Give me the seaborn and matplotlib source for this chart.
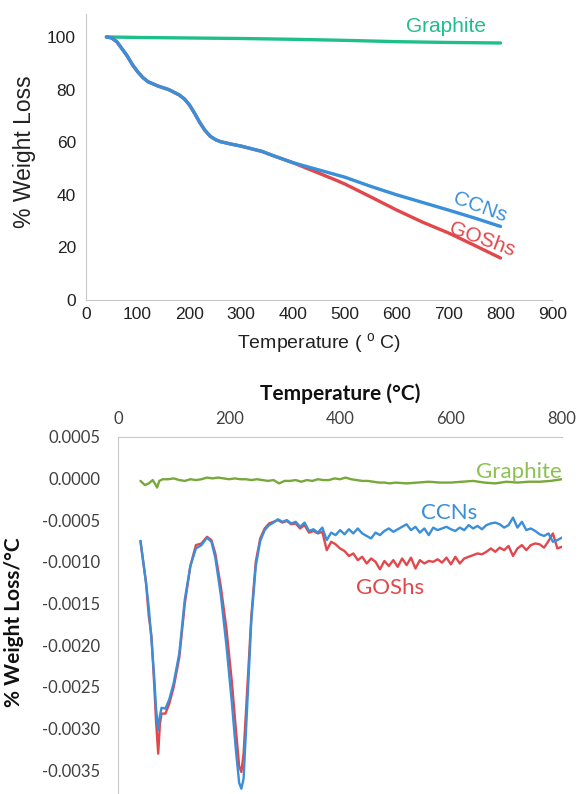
import numpy as np
import pandas as pd
import seaborn as sns
import matplotlib.pyplot as plt
from matplotlib.ticker import FormatStrFormatter

sns.set_style("white")

# ---------------- TGA (top panel) ----------------
tga_temp = [40, 50, 60, 70, 80, 90, 100, 110, 120, 140, 160, 180, 190, 200, 210, 220,
            230, 240, 250, 260, 280, 300, 320, 340, 360, 380, 400, 420, 440, 460, 480,
            500, 550, 600, 650, 700, 750, 800]
tga_ccns = [100, 99.6, 98.2, 95.5, 92.8, 89.5, 86.8, 84.6, 83.0, 81.3, 80.0, 78.0, 76.5,
            74.2, 71.0, 67.5, 64.5, 62.3, 61.0, 60.2, 59.3, 58.5, 57.5, 56.5, 55.0, 53.6,
            52.2, 51.1, 50.0, 48.9, 47.8, 46.7, 43.2, 40.0, 37.1, 34.2, 31.2, 28.0]
tga_goshs = [100, 99.6, 98.2, 95.5, 92.8, 89.5, 86.8, 84.6, 83.0, 81.3, 80.0, 78.0, 76.5,
             74.2, 71.0, 67.5, 64.5, 62.3, 61.0, 60.2, 59.3, 58.5, 57.5, 56.5, 55.0, 53.6,
             52.2, 50.6, 49.0, 47.4, 45.8, 44.1, 39.2, 34.2, 29.6, 25.5, 20.8, 16.0]
tga_graph_temp = [40, 100, 200, 300, 400, 500, 600, 700, 800]
tga_graphite = [100, 99.8, 99.6, 99.4, 99.1, 98.7, 98.2, 97.9, 97.7]

# ---------------- DTG (bottom panel), values in 1e-4 %/°C ----------------
dtg_temp = [40, 45, 50, 55, 60, 65, 68, 72, 75, 78, 85, 92, 100, 110, 120, 130, 140, 150,
            160, 168, 175, 185, 195, 205, 212, 218, 222, 226, 232, 240, 248, 256, 264, 272,
            280, 288, 296, 304, 312, 320, 328, 336, 344, 352, 360, 368, 376, 384, 392, 400,
            408, 416, 424, 432, 440, 448, 456, 464, 472, 480, 488, 496, 504, 512, 520, 528,
            536, 544, 552, 560, 568, 576, 584, 592, 600, 608, 616, 624, 632, 640, 648, 656,
            664, 672, 680, 688, 696, 704, 712, 720, 728, 736, 744, 752, 760, 768, 776, 784,
            792, 800]
dtg_ccns = [-7.5, -10, -12.5, -15.5, -19.5, -24, -27.5, -30.2, -28.5, -27.5, -27.6, -26.5,
            -24.5, -21, -14.5, -10.5, -8.4, -8.0, -7.1, -7.6, -9.5, -14, -20, -27, -32.5,
            -36.5, -37.2, -36, -28, -17, -10.5, -7.5, -6.2, -5.6,
            -5.3, -4.9, -5.2, -5.0, -5.4, -5.2, -5.8, -5.3, -6.3, -6.1, -6.5, -5.9, -7.4,
            -6.5, -6.8, -6.2, -6.7, -6.1, -6.6, -6.0, -6.6, -6.9, -7.2, -6.5, -6.8, -6.3,
            -6.0, -6.4, -6.1, -5.8, -5.5, -6.2, -5.8, -6.5, -6.0, -6.8, -5.9, -6.2, -6.0,
            -5.8, -6.1, -6.3, -5.9, -6.2, -5.6, -6.0, -5.7, -6.1, -5.6, -5.4, -5.3, -5.5,
            -5.9, -5.6, -4.7, -5.9, -5.2, -6.2, -6.0, -6.3, -6.7, -6.9, -6.6, -7.6, -7.4,
            -7.1]
dtg_goshs = [-7.5, -10, -12.5, -16.5, -19, -25, -29, -33, -29.5, -28.2, -28.2, -27,
             -25, -21.5, -15, -10.5, -8.0, -7.8, -7.0, -7.4, -9.0, -13, -18, -24.5, -30,
             -34.5, -35.2, -33, -26, -16.5, -10, -7.2, -6.0, -5.4,
             -5.2, -5.0, -5.3, -5.1, -5.5, -5.4, -6.0, -5.6, -6.5, -6.3, -6.6, -6.4, -8.6,
             -7.6, -7.9, -8.4, -8.7, -9.3, -9.0, -9.8, -9.4, -10.2, -9.6, -10.0, -10.9,
             -9.9, -10.5, -9.8, -10.6, -9.6, -10.4, -9.5, -10.8, -9.8, -10.2, -9.9, -10.0,
             -9.7, -10.1, -9.5, -10.3, -9.4, -10.2, -9.6, -9.4, -9.2, -9.0, -9.1, -8.8,
             -8.4, -8.8, -8.3, -8.6, -8.1, -9.3, -8.4, -8.0, -8.6, -8.0, -7.8, -7.9, -8.3,
             -7.5, -6.6, -8.4, -8.2]
dtg_graph_temp = [40, 48, 55, 62, 66, 70, 74, 80,
                  90, 100, 110, 120, 130, 140, 150, 160, 170, 180, 190, 200, 210, 220, 230,
                  240, 250, 260, 270, 280, 290, 300, 310, 320, 330, 340, 350, 360, 370, 380,
                  390, 400, 410, 420, 430, 440, 450,
                  460, 470, 480, 490, 500,
                  520, 540, 560, 580, 600, 620, 640, 660, 680, 700, 720, 740, 760, 780, 800]
dtg_graphite = [-0.3, -0.8, -0.6, -0.2, -0.6, -1.1, -0.3, -0.1,
                -0.1, 0.0, -0.2, -0.3, -0.1, -0.2, -0.1, 0.1, 0.0, 0.1, 0.0, -0.1, 0.0, -0.1,
                -0.1, -0.2, -0.1, -0.2, -0.3, -0.2, -0.6, -0.3, -0.3, -0.2, -0.4, -0.2, -0.3,
                -0.1, -0.2, -0.2, 0.0, -0.1, 0.1, -0.1, -0.2, -0.3, -0.3,
                -0.4, -0.5, -0.5, -0.6, -0.5,
                -0.6, -0.5, -0.4, -0.5, -0.5, -0.4, -0.3, -0.5, -0.6, -0.4, -0.5, -0.4, -0.4,
                -0.3, -0.1]

blue = "#3a8fd9"
red = "#e2474b"
teal = "#1fbf8c"
olive = "#78a83a"

tga = pd.concat([
    pd.DataFrame({"T": tga_graph_temp, "w": tga_graphite, "s": "Graphite"}),
    pd.DataFrame({"T": tga_temp, "w": tga_goshs, "s": "GOShs"}),
    pd.DataFrame({"T": tga_temp, "w": tga_ccns, "s": "CCNs"}),
])
dtg = pd.concat([
    pd.DataFrame({"T": dtg_graph_temp, "d": np.array(dtg_graphite) * 1e-4, "s": "Graphite"}),
    pd.DataFrame({"T": dtg_temp, "d": np.array(dtg_goshs) * 1e-4, "s": "GOShs"}),
    pd.DataFrame({"T": dtg_temp, "d": np.array(dtg_ccns) * 1e-4, "s": "CCNs"}),
])

fig = plt.figure(figsize=(5.79, 7.94), dpi=100)

# ---------------- top panel ----------------
ax1 = fig.add_axes([0.148, 0.622, 0.806, 0.360])
sns.lineplot(data=tga, x="T", y="w", hue="s", sort=False, estimator=None,
             palette={"Graphite": teal, "GOShs": red, "CCNs": blue},
             linewidth=2.4, legend=False, ax=ax1)
ax1.set_xlim(0, 900)
ax1.set_ylim(0, 108.6)
ax1.set_xticks(range(0, 901, 100))
ax1.set_yticks(range(0, 101, 20))
for s in ["top", "right"]:
    ax1.spines[s].set_visible(False)
for s in ["left", "bottom"]:
    ax1.spines[s].set_color("#c8c8c8")
ax1.tick_params(length=0, labelsize=12.5, labelcolor="#222222")
ax1.tick_params(axis="x", pad=5)
ax1.tick_params(axis="y", pad=7)
for lab in ax1.get_xticklabels() + ax1.get_yticklabels():
    lab.set_family("Liberation Sans")
ax1.set_xlabel("Temperature ( $^\\mathregular{o}$ C)", family="Liberation Sans",
               fontsize=14, color="#222222", labelpad=7)
ax1.set_ylabel("% Weight Loss", family="Liberation Sans", fontsize=16.5,
               color="#222222")
ax1.yaxis.set_label_coords(-0.106, 0.52)
ax1.text(695, 104, "Graphite", color=teal, fontsize=15, family="Liberation Sans",
         ha="center", va="center")
ax1.text(760, 35.3, "CCNs", color=blue, fontsize=15, family="Liberation Sans",
         ha="center", va="center", rotation=-20)
ax1.text(765, 23.0, "GOShs", color=red, fontsize=15, family="Liberation Sans",
         ha="center", va="center", rotation=-20)

# ---------------- bottom panel ----------------
ax2 = fig.add_axes([0.2043, 0.0, 0.766, 0.45])
sns.lineplot(data=dtg, x="T", y="d", hue="s", sort=False, estimator=None,
             palette={"Graphite": olive, "GOShs": red, "CCNs": blue},
             linewidth=1.7, legend=False, ax=ax2)
ax2.set_xlim(0, 800)
ax2.set_ylim(-0.003784, 0.0005)
ax2.set_xticks(range(0, 801, 200))
ax2.set_yticks(np.arange(-0.0035, 0.00051, 0.0005))
ax2.yaxis.set_major_formatter(FormatStrFormatter("%.4f"))
ax2.xaxis.tick_top()
ax2.xaxis.set_label_position("top")
for s in ["bottom", "right"]:
    ax2.spines[s].set_visible(False)
for s in ["left", "top"]:
    ax2.spines[s].set_color("#c8c8c8")
ax2.tick_params(length=0, labelsize=12, labelcolor="#404040")
ax2.tick_params(axis="x", pad=7)
ax2.tick_params(axis="y", pad=13)
for lab in ax2.get_xticklabels() + ax2.get_yticklabels():
    lab.set_family("Lato")
ax2.set_xlabel("Temperature (°C)", family="Lato", fontweight="bold", fontsize=15,
               color="#111111", labelpad=8)
ax2.set_ylabel("% Weight Loss/°C", family="Lato", fontweight="bold", fontsize=15,
               color="#111111")
ax2.yaxis.set_label_coords(-0.212, 0.48)
ax2.text(723, 0.00008, "Graphite", color="#8cc152", fontsize=16, family="Lato",
         ha="center", va="center")
ax2.text(597, -0.00041, "CCNs", color=blue, fontsize=16, family="Lato",
         ha="center", va="center")
ax2.text(490, -0.00131, "GOShs", color=red, fontsize=16, family="Lato",
         ha="center", va="center")

fig.savefig("out.png", dpi=100)
